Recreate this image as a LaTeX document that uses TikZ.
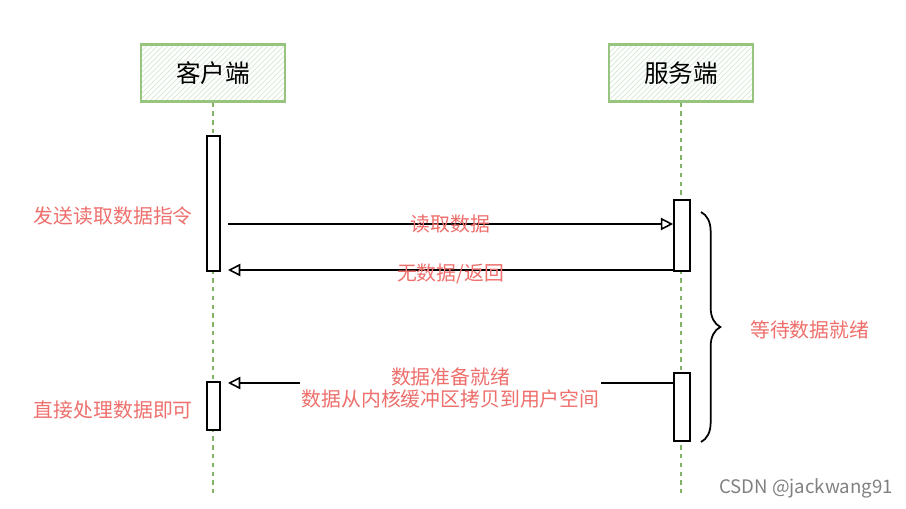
\documentclass[tikz,border=0pt]{standalone}
\usepackage{fontspec}
\setmainfont{Noto Sans CJK SC}
\usepackage{tikz}
\usetikzlibrary{arrows.meta,patterns,decorations.pathreplacing}
\definecolor{lifegreen}{HTML}{82B366}
\definecolor{boxgreen}{HTML}{97C47F}
\definecolor{hatchgreen}{HTML}{D5E8D4}
\definecolor{msgred}{HTML}{EE6F6C}

\begin{document}
\begin{tikzpicture}[x=0.02cm,y=-0.02cm,
    actor/.style={draw=boxgreen,line width=1.2pt,pattern=north east lines,pattern color=hatchgreen,
        minimum width=2.88cm,minimum height=1.14cm,font=\fontsize{14}{16}\selectfont},
    life/.style={lifegreen,line width=1.2pt,dash pattern=on 2.5pt off 2.5pt},
    act/.style={draw,fill=white,line width=1pt,inner sep=0pt},
    msg/.style={line width=0.9pt,-{Triangle[open,length=7pt,width=7pt]}},
    note/.style={text=msgred,font=\fontsize{11.3}{12.5}\selectfont},
    brace/.style={decorate,decoration={brace,amplitude=11pt},line width=1pt}]
    \useasboundingbox (0,0) rectangle (906,509);
    \node[actor] (client) at (213,73) {客户端};
    \node[actor] (server) at (681,73) {服务端};
    \coordinate (cend) at (213,497);
    \coordinate (send) at (681,497);
    \draw[life] (client.south) -- (cend);
    \draw[life] (server.south) -- (send);
    \node[act,minimum width=0.26cm,minimum height=2.7cm] (ca1) at (213.5,203.5) {};
    \node[act,minimum width=0.26cm,minimum height=0.96cm] (ca2) at (213.5,406) {};
    \node[act,minimum width=0.32cm,minimum height=1.42cm] (sa1) at (682,235.5) {};
    \node[act,minimum width=0.32cm,minimum height=1.36cm] (sa2) at (682,407) {};
    \coordinate (m1s) at (228,224);
    \coordinate (m2e) at (228,270);
    \coordinate (m3e) at (228,383);
    \draw[msg] (m1s) -- (m1s -| sa1.west) node[note,midway] (m1) {读取数据};
    \draw[msg] (sa1.west |- m2e) -- (m2e) node[note,midway,yshift=-2] (m2) {无数据/返回};
    \draw[msg] (sa2.west |- m3e) -- (m3e) node[note,midway,fill=white,align=center,inner sep=1pt,yshift=-3] (m3) {数据准备就绪\\数据从内核缓冲区拷贝到用户空间};
    \node[note,anchor=east] (send1) at (199,216) {发送读取数据指令};
    \node[note,anchor=east] (handle) at (199,410) {直接处理数据即可};
    \draw[brace] (701,212) -- (701,442) node[midway] (bt) {};
    \node[note,anchor=west] (wait) at (744,330) {等待数据就绪};
    \node[gray,font=\fontsize{10.6}{12}\selectfont,anchor=east] (mark) at (899,488) {CSDN @jackwang91};
\end{tikzpicture}
\end{document}
